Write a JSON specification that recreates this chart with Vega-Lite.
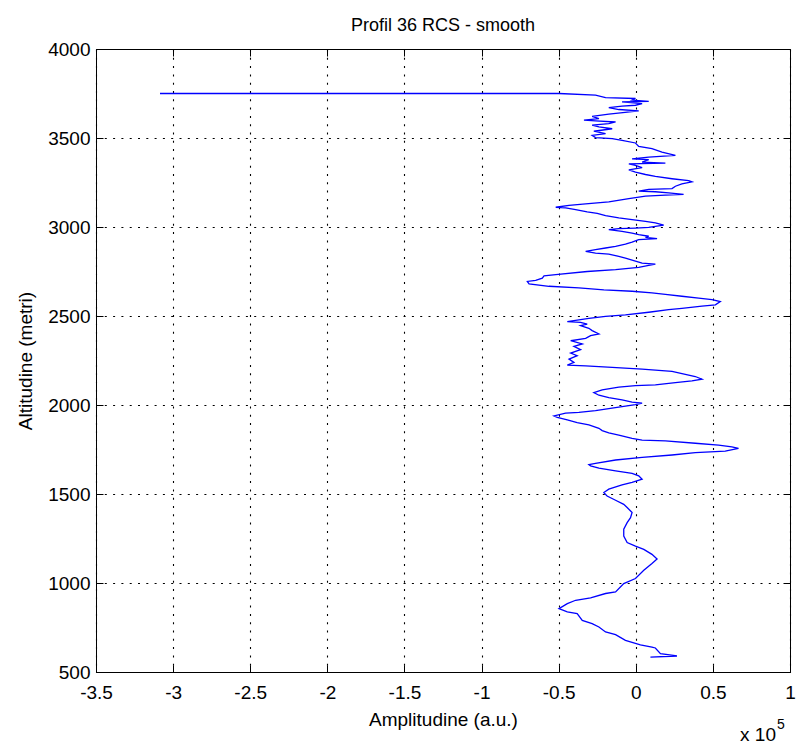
{
  "$schema": "https://vega.github.io/schema/vega-lite/v6.json",
  "width": 694,
  "height": 623,
  "autosize": {"type": "none"},
  "padding": {"left": 96, "top": 49, "right": 6, "bottom": 74},
  "background": "white",
  "title": {
    "text": "Profil 36 RCS - smooth",
    "font": "Liberation Sans",
    "fontSize": 18,
    "fontWeight": "normal",
    "color": "black",
    "offset": 5
  },
  "config": {
    "view": {"stroke": "black", "strokeWidth": 1},
    "axis": {
      "labelFont": "Liberation Sans",
      "titleFont": "Liberation Sans",
      "labelFontSize": 19,
      "titleFontSize": 19,
      "titleFontWeight": "normal",
      "labelColor": "black",
      "titleColor": "black",
      "domainColor": "black",
      "tickColor": "black",
      "tickSize": -7,
      "tickWidth": 1,
      "gridColor": "black",
      "gridDash": [2, 6.3],
      "gridWidth": 1.1,
      "gridOpacity": 1
    }
  },
  "datasets": {
    "profile": [
      {"i": 1, "amp": 0.095, "alt": 584},
      {"i": 2, "amp": 0.267, "alt": 590},
      {"i": 3, "amp": 0.160, "alt": 603},
      {"i": 4, "amp": 0.127, "alt": 635},
      {"i": 5, "amp": 0.105, "alt": 640},
      {"i": 6, "amp": 0.030, "alt": 653},
      {"i": 7, "amp": -0.067, "alt": 678},
      {"i": 8, "amp": -0.131, "alt": 710},
      {"i": 9, "amp": -0.196, "alt": 725},
      {"i": 10, "amp": -0.239, "alt": 753},
      {"i": 11, "amp": -0.283, "alt": 772},
      {"i": 12, "amp": -0.347, "alt": 790},
      {"i": 13, "amp": -0.380, "alt": 828},
      {"i": 14, "amp": -0.444, "alt": 838},
      {"i": 15, "amp": -0.498, "alt": 856},
      {"i": 16, "amp": -0.444, "alt": 884},
      {"i": 17, "amp": -0.390, "alt": 903},
      {"i": 18, "amp": -0.293, "alt": 917},
      {"i": 19, "amp": -0.196, "alt": 941},
      {"i": 20, "amp": -0.131, "alt": 950},
      {"i": 21, "amp": -0.078, "alt": 997},
      {"i": 22, "amp": -0.002, "alt": 1025},
      {"i": 23, "amp": 0.052, "alt": 1072},
      {"i": 24, "amp": 0.105, "alt": 1110},
      {"i": 25, "amp": 0.138, "alt": 1135},
      {"i": 26, "amp": 0.105, "alt": 1161},
      {"i": 27, "amp": 0.052, "alt": 1189},
      {"i": 28, "amp": -0.002, "alt": 1207},
      {"i": 29, "amp": -0.056, "alt": 1227},
      {"i": 30, "amp": -0.078, "alt": 1264},
      {"i": 31, "amp": -0.078, "alt": 1302},
      {"i": 32, "amp": -0.056, "alt": 1339},
      {"i": 33, "amp": -0.034, "alt": 1367},
      {"i": 34, "amp": -0.024, "alt": 1396},
      {"i": 35, "amp": -0.056, "alt": 1424},
      {"i": 36, "amp": -0.078, "alt": 1442},
      {"i": 37, "amp": -0.131, "alt": 1465},
      {"i": 38, "amp": -0.186, "alt": 1489},
      {"i": 39, "amp": -0.207, "alt": 1508},
      {"i": 40, "amp": -0.175, "alt": 1527},
      {"i": 41, "amp": -0.089, "alt": 1551},
      {"i": 42, "amp": -0.024, "alt": 1565},
      {"i": 43, "amp": 0.041, "alt": 1583},
      {"i": 44, "amp": 0.019, "alt": 1602},
      {"i": 45, "amp": -0.024, "alt": 1616},
      {"i": 46, "amp": -0.131, "alt": 1630},
      {"i": 47, "amp": -0.239, "alt": 1645},
      {"i": 48, "amp": -0.293, "alt": 1658},
      {"i": 49, "amp": -0.304, "alt": 1665},
      {"i": 50, "amp": -0.261, "alt": 1672},
      {"i": 51, "amp": -0.131, "alt": 1691},
      {"i": 52, "amp": 0.041, "alt": 1706},
      {"i": 53, "amp": 0.235, "alt": 1719},
      {"i": 54, "amp": 0.386, "alt": 1732},
      {"i": 55, "amp": 0.580, "alt": 1741},
      {"i": 56, "amp": 0.666, "alt": 1756},
      {"i": 57, "amp": 0.623, "alt": 1765},
      {"i": 58, "amp": 0.537, "alt": 1775},
      {"i": 59, "amp": 0.386, "alt": 1785},
      {"i": 60, "amp": 0.192, "alt": 1798},
      {"i": 61, "amp": 0.041, "alt": 1803},
      {"i": 62, "amp": -0.024, "alt": 1813},
      {"i": 63, "amp": -0.110, "alt": 1831},
      {"i": 64, "amp": -0.175, "alt": 1844},
      {"i": 65, "amp": -0.218, "alt": 1856},
      {"i": 66, "amp": -0.239, "alt": 1869},
      {"i": 67, "amp": -0.304, "alt": 1888},
      {"i": 68, "amp": -0.380, "alt": 1901},
      {"i": 69, "amp": -0.444, "alt": 1916},
      {"i": 70, "amp": -0.509, "alt": 1931},
      {"i": 71, "amp": -0.530, "alt": 1939},
      {"i": 72, "amp": -0.455, "alt": 1954},
      {"i": 73, "amp": -0.369, "alt": 1959},
      {"i": 74, "amp": -0.261, "alt": 1968},
      {"i": 75, "amp": -0.175, "alt": 1980},
      {"i": 76, "amp": -0.089, "alt": 1991},
      {"i": 77, "amp": -0.002, "alt": 2002},
      {"i": 78, "amp": 0.041, "alt": 2010},
      {"i": 79, "amp": -0.024, "alt": 2016},
      {"i": 80, "amp": -0.089, "alt": 2029},
      {"i": 81, "amp": -0.175, "alt": 2042},
      {"i": 82, "amp": -0.239, "alt": 2055},
      {"i": 83, "amp": -0.272, "alt": 2070},
      {"i": 84, "amp": -0.218, "alt": 2085},
      {"i": 85, "amp": -0.110, "alt": 2100},
      {"i": 86, "amp": -0.002, "alt": 2109},
      {"i": 87, "amp": 0.127, "alt": 2113},
      {"i": 88, "amp": 0.257, "alt": 2126},
      {"i": 89, "amp": 0.364, "alt": 2136},
      {"i": 90, "amp": 0.429, "alt": 2145},
      {"i": 91, "amp": 0.386, "alt": 2160},
      {"i": 92, "amp": 0.235, "alt": 2189},
      {"i": 93, "amp": 0.041, "alt": 2202},
      {"i": 94, "amp": -0.153, "alt": 2211},
      {"i": 95, "amp": -0.325, "alt": 2220},
      {"i": 96, "amp": -0.444, "alt": 2224},
      {"i": 97, "amp": -0.401, "alt": 2239},
      {"i": 98, "amp": -0.433, "alt": 2258},
      {"i": 99, "amp": -0.380, "alt": 2277},
      {"i": 100, "amp": -0.422, "alt": 2292},
      {"i": 101, "amp": -0.358, "alt": 2311},
      {"i": 102, "amp": -0.401, "alt": 2329},
      {"i": 103, "amp": -0.347, "alt": 2343},
      {"i": 104, "amp": -0.422, "alt": 2361},
      {"i": 105, "amp": -0.325, "alt": 2374},
      {"i": 106, "amp": -0.293, "alt": 2390},
      {"i": 107, "amp": -0.239, "alt": 2399},
      {"i": 108, "amp": -0.283, "alt": 2418},
      {"i": 109, "amp": -0.304, "alt": 2431},
      {"i": 110, "amp": -0.358, "alt": 2446},
      {"i": 111, "amp": -0.315, "alt": 2455},
      {"i": 112, "amp": -0.358, "alt": 2464},
      {"i": 113, "amp": -0.444, "alt": 2468},
      {"i": 114, "amp": -0.401, "alt": 2474},
      {"i": 115, "amp": -0.304, "alt": 2487},
      {"i": 116, "amp": -0.196, "alt": 2498},
      {"i": 117, "amp": -0.067, "alt": 2506},
      {"i": 118, "amp": 0.084, "alt": 2521},
      {"i": 119, "amp": 0.213, "alt": 2536},
      {"i": 120, "amp": 0.299, "alt": 2543},
      {"i": 121, "amp": 0.429, "alt": 2555},
      {"i": 122, "amp": 0.516, "alt": 2563},
      {"i": 123, "amp": 0.548, "alt": 2581},
      {"i": 124, "amp": 0.494, "alt": 2592},
      {"i": 125, "amp": 0.408, "alt": 2600},
      {"i": 126, "amp": 0.299, "alt": 2611},
      {"i": 127, "amp": 0.192, "alt": 2621},
      {"i": 128, "amp": 0.105, "alt": 2630},
      {"i": 129, "amp": -0.024, "alt": 2639},
      {"i": 130, "amp": -0.207, "alt": 2647},
      {"i": 131, "amp": -0.369, "alt": 2658},
      {"i": 132, "amp": -0.563, "alt": 2667},
      {"i": 133, "amp": -0.692, "alt": 2681},
      {"i": 134, "amp": -0.703, "alt": 2694},
      {"i": 135, "amp": -0.649, "alt": 2700},
      {"i": 136, "amp": -0.606, "alt": 2713},
      {"i": 137, "amp": -0.595, "alt": 2725},
      {"i": 138, "amp": -0.519, "alt": 2732},
      {"i": 139, "amp": -0.315, "alt": 2750},
      {"i": 140, "amp": -0.131, "alt": 2760},
      {"i": 141, "amp": 0.019, "alt": 2773},
      {"i": 142, "amp": 0.084, "alt": 2784},
      {"i": 143, "amp": 0.127, "alt": 2791},
      {"i": 144, "amp": 0.041, "alt": 2797},
      {"i": 145, "amp": -0.013, "alt": 2811},
      {"i": 146, "amp": -0.067, "alt": 2825},
      {"i": 147, "amp": -0.110, "alt": 2835},
      {"i": 148, "amp": -0.175, "alt": 2848},
      {"i": 149, "amp": -0.261, "alt": 2853},
      {"i": 150, "amp": -0.325, "alt": 2863},
      {"i": 151, "amp": -0.261, "alt": 2873},
      {"i": 152, "amp": -0.196, "alt": 2882},
      {"i": 153, "amp": -0.131, "alt": 2891},
      {"i": 154, "amp": -0.067, "alt": 2904},
      {"i": 155, "amp": -0.024, "alt": 2915},
      {"i": 156, "amp": 0.019, "alt": 2929},
      {"i": 157, "amp": 0.138, "alt": 2935},
      {"i": 158, "amp": 0.063, "alt": 2942},
      {"i": 159, "amp": 0.084, "alt": 2948},
      {"i": 160, "amp": 0.019, "alt": 2957},
      {"i": 161, "amp": -0.024, "alt": 2966},
      {"i": 162, "amp": -0.089, "alt": 2976},
      {"i": 163, "amp": -0.175, "alt": 2985},
      {"i": 164, "amp": -0.110, "alt": 2991},
      {"i": 165, "amp": -0.002, "alt": 2994},
      {"i": 166, "amp": 0.084, "alt": 2998},
      {"i": 167, "amp": 0.181, "alt": 3010},
      {"i": 168, "amp": 0.127, "alt": 3023},
      {"i": 169, "amp": 0.063, "alt": 3032},
      {"i": 170, "amp": -0.024, "alt": 3042},
      {"i": 171, "amp": -0.110, "alt": 3051},
      {"i": 172, "amp": -0.196, "alt": 3064},
      {"i": 173, "amp": -0.250, "alt": 3076},
      {"i": 174, "amp": -0.315, "alt": 3085},
      {"i": 175, "amp": -0.390, "alt": 3098},
      {"i": 176, "amp": -0.455, "alt": 3107},
      {"i": 177, "amp": -0.519, "alt": 3111},
      {"i": 178, "amp": -0.433, "alt": 3122},
      {"i": 179, "amp": -0.325, "alt": 3130},
      {"i": 180, "amp": -0.175, "alt": 3141},
      {"i": 181, "amp": -0.045, "alt": 3160},
      {"i": 182, "amp": 0.063, "alt": 3173},
      {"i": 183, "amp": 0.192, "alt": 3179},
      {"i": 184, "amp": 0.310, "alt": 3183},
      {"i": 185, "amp": 0.213, "alt": 3192},
      {"i": 186, "amp": 0.127, "alt": 3198},
      {"i": 187, "amp": 0.019, "alt": 3201},
      {"i": 188, "amp": 0.084, "alt": 3211},
      {"i": 189, "amp": 0.235, "alt": 3216},
      {"i": 190, "amp": 0.257, "alt": 3229},
      {"i": 191, "amp": 0.299, "alt": 3242},
      {"i": 192, "amp": 0.364, "alt": 3254},
      {"i": 193, "amp": 0.343, "alt": 3260},
      {"i": 194, "amp": 0.235, "alt": 3271},
      {"i": 195, "amp": 0.127, "alt": 3284},
      {"i": 196, "amp": 0.063, "alt": 3295},
      {"i": 197, "amp": -0.002, "alt": 3308},
      {"i": 198, "amp": -0.045, "alt": 3321},
      {"i": 199, "amp": 0.041, "alt": 3333},
      {"i": 200, "amp": -0.002, "alt": 3346},
      {"i": 201, "amp": -0.045, "alt": 3355},
      {"i": 202, "amp": 0.192, "alt": 3359},
      {"i": 203, "amp": 0.041, "alt": 3365},
      {"i": 204, "amp": 0.084, "alt": 3378},
      {"i": 205, "amp": -0.024, "alt": 3383},
      {"i": 206, "amp": 0.084, "alt": 3393},
      {"i": 207, "amp": 0.257, "alt": 3402},
      {"i": 208, "amp": 0.170, "alt": 3421},
      {"i": 209, "amp": 0.105, "alt": 3440},
      {"i": 210, "amp": 0.019, "alt": 3453},
      {"i": 211, "amp": -0.002, "alt": 3472},
      {"i": 212, "amp": -0.089, "alt": 3487},
      {"i": 213, "amp": -0.153, "alt": 3496},
      {"i": 214, "amp": -0.261, "alt": 3502},
      {"i": 215, "amp": -0.283, "alt": 3515},
      {"i": 216, "amp": -0.196, "alt": 3524},
      {"i": 217, "amp": -0.272, "alt": 3538},
      {"i": 218, "amp": -0.153, "alt": 3552},
      {"i": 219, "amp": -0.239, "alt": 3562},
      {"i": 220, "amp": -0.283, "alt": 3572},
      {"i": 221, "amp": -0.175, "alt": 3581},
      {"i": 222, "amp": -0.131, "alt": 3590},
      {"i": 223, "amp": -0.261, "alt": 3596},
      {"i": 224, "amp": -0.336, "alt": 3600},
      {"i": 225, "amp": -0.239, "alt": 3609},
      {"i": 226, "amp": -0.283, "alt": 3622},
      {"i": 227, "amp": -0.175, "alt": 3634},
      {"i": 228, "amp": -0.099, "alt": 3641},
      {"i": 229, "amp": 0.019, "alt": 3652},
      {"i": 230, "amp": -0.110, "alt": 3660},
      {"i": 231, "amp": -0.175, "alt": 3671},
      {"i": 232, "amp": -0.089, "alt": 3679},
      {"i": 233, "amp": -0.002, "alt": 3684},
      {"i": 234, "amp": 0.041, "alt": 3693},
      {"i": 235, "amp": -0.089, "alt": 3703},
      {"i": 236, "amp": 0.084, "alt": 3706},
      {"i": 237, "amp": -0.024, "alt": 3713},
      {"i": 238, "amp": -0.002, "alt": 3722},
      {"i": 239, "amp": -0.196, "alt": 3727},
      {"i": 240, "amp": -0.261, "alt": 3741},
      {"i": 241, "amp": -0.498, "alt": 3750},
      {"i": 242, "amp": -3.085, "alt": 3750}
    ],
    "exponent": [{"amp": 1, "alt": 500, "base": "x 10", "power": "5"}]
  },
  "layer": [
    {
      "data": {"name": "profile"},
      "mark": {"type": "line", "color": "#0000FF", "strokeWidth": 1.3, "interpolate": "linear"},
      "encoding": {
        "x": {
          "field": "amp",
          "type": "quantitative",
          "scale": {"domain": [-3.5, 1], "nice": false, "zero": false},
          "axis": {
            "orient": "bottom",
            "title": "Amplitudine (a.u.)",
            "values": [-3.5, -3, -2.5, -2, -1.5, -1, -0.5, 0, 0.5, 1],
            "format": "~g",
            "labelExpr": "replace(datum.label, '\u2212', '-')",
            "grid": true,
            "labelPadding": 18,
            "titlePadding": 8,
            "labelFlush": false,
            "labelOverlap": false
          }
        },
        "y": {
          "field": "alt",
          "type": "quantitative",
          "scale": {"domain": [500, 4000], "nice": false, "zero": false},
          "axis": {
            "orient": "left",
            "title": "Altitudine (metri)",
            "values": [500, 1000, 1500, 2000, 2500, 3000, 3500, 4000],
            "format": "d",
            "grid": true,
            "labelPadding": 13,
            "titlePadding": 12,
            "labelFlush": false,
            "labelOverlap": false
          }
        },
        "order": {"field": "i", "type": "quantitative"}
      }
    },
    {
      "data": {"name": "profile"},
      "mark": {"type": "line", "opacity": 0},
      "encoding": {
        "x": {
          "field": "amp",
          "type": "quantitative",
          "axis": {
            "orient": "top",
            "title": null,
            "labels": false,
            "grid": false,
            "domain": false,
            "values": [-3.5, -3, -2.5, -2, -1.5, -1, -0.5, 0, 0.5, 1]
          }
        },
        "y": {
          "field": "alt",
          "type": "quantitative",
          "axis": {
            "orient": "right",
            "title": null,
            "labels": false,
            "grid": false,
            "domain": false,
            "values": [500, 1000, 1500, 2000, 2500, 3000, 3500, 4000]
          }
        }
      }
    },
    {
      "data": {"name": "exponent"},
      "mark": {
        "type": "text",
        "font": "Liberation Sans",
        "fontSize": 19,
        "align": "right",
        "baseline": "alphabetic",
        "dx": -14,
        "dy": 69,
        "color": "black"
      },
      "encoding": {
        "x": {"field": "amp", "type": "quantitative", "axis": null},
        "y": {"field": "alt", "type": "quantitative", "axis": null},
        "text": {"field": "base"}
      }
    },
    {
      "data": {"name": "exponent"},
      "mark": {
        "type": "text",
        "font": "Liberation Sans",
        "fontSize": 14,
        "align": "left",
        "baseline": "alphabetic",
        "dx": -13,
        "dy": 57,
        "color": "black"
      },
      "encoding": {
        "x": {"field": "amp", "type": "quantitative", "axis": null},
        "y": {"field": "alt", "type": "quantitative", "axis": null},
        "text": {"field": "power"}
      }
    }
  ],
  "resolve": {"axis": {"x": "independent", "y": "independent"}}
}
